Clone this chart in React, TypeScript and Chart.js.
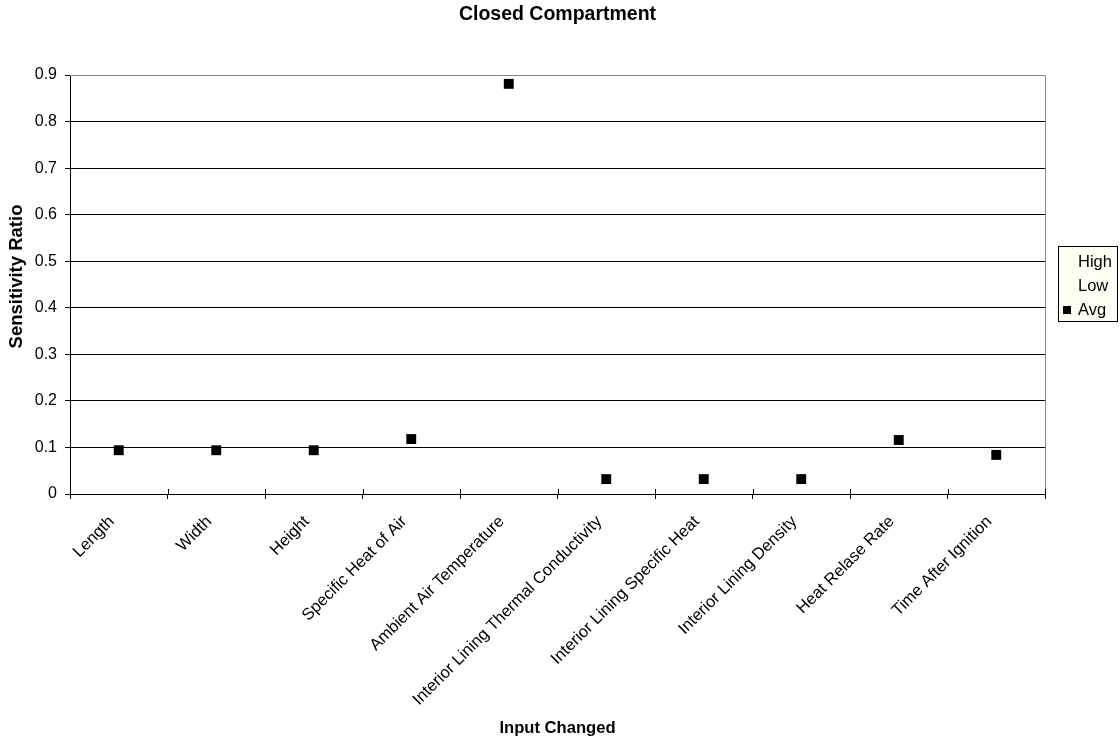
import React, { useEffect, useRef } from 'react';
import { Chart, registerables } from 'chart.js';

Chart.register(...registerables);

const FONT = '"Liberation Sans", Arial, Helvetica, sans-serif';

const categories = [
  'Length',
  'Width',
  'Height',
  'Specific Heat of Air',
  'Ambient Air Temperature',
  'Interior Lining Thermal Conductivity',
  'Interior Lining Specific Heat',
  'Interior Lining Density',
  'Heat Relase Rate',
  'Time After Ignition',
];

const highValues: number[] = [];
const lowValues: number[] = [];
const avgValues = [0.094, 0.094, 0.094, 0.118, 0.881, 0.032, 0.032, 0.032, 0.116, 0.084];

const yMin = 0;
const yMax = 0.9;
const yStep = 0.1;

const chartTitle = 'Closed Compartment';
const xTitle = 'Input Changed';
const yTitle = 'Sensitivity Ratio';

const titlePlugin = {
  id: 'titles',
  afterDraw(chart: any) {
    const { ctx, chartArea } = chart;
    ctx.save();
    ctx.fillStyle = '#000';
    ctx.textAlign = 'center';
    ctx.textBaseline = 'middle';
    ctx.font = `bold 19.5px ${FONT}`;
    ctx.fillText(chartTitle, (chartArea.left + chartArea.right) / 2, 15);
    ctx.translate(17, (chartArea.top + chartArea.bottom) / 2 - 8);
    ctx.rotate(-Math.PI / 2);
    ctx.font = `bold 18.5px ${FONT}`;
    ctx.fillText(yTitle, 0, 0);
    ctx.restore();
  },
};

const framePlugin = {
  id: 'frame',
  beforeDatasetsDraw(chart: any) {
    const { ctx, chartArea } = chart;
    const { left, right, top, bottom } = chartArea;
    ctx.save();
    ctx.strokeStyle = '#888888';
    ctx.lineWidth = 1;
    ctx.beginPath();
    ctx.moveTo(left, Math.round(top) + 0.5);
    ctx.lineTo(Math.round(right) + 0.5, Math.round(top) + 0.5);
    ctx.lineTo(Math.round(right) + 0.5, bottom);
    ctx.stroke();
    // inner part of category tick marks (crossing the axis)
    const xs = chart.scales.x;
    const n = categories.length;
    ctx.strokeStyle = '#000';
    ctx.beginPath();
    for (let i = 0; i <= n; i++) {
      let px: number;
      if (i === 0) px = left;
      else if (i === n) px = right;
      else px = (xs.getPixelForValue(i - 1) + xs.getPixelForValue(i)) / 2;
      const ax = Math.round(px) + 0.5;
      ctx.moveTo(ax, bottom - 5);
      ctx.lineTo(ax, bottom);
    }
    ctx.stroke();
    ctx.restore();
  },
};

const legendPlugin = {
  id: 'legendBox',
  afterDraw(chart: any) {
    const { ctx, chartArea } = chart;
    const x = Math.round(chartArea.right) + 13;
    const y = 246;
    const w = 60;
    const h = 76;
    ctx.save();
    ctx.fillStyle = '#fffff4';
    ctx.fillRect(x, y, w, h);
    ctx.strokeStyle = '#000';
    ctx.lineWidth = 1;
    ctx.strokeRect(x + 0.5, y + 0.5, w - 1, h - 1);
    ctx.font = `16.5px ${FONT}`;
    ctx.textAlign = 'left';
    ctx.textBaseline = 'middle';
    chart.data.datasets.forEach((ds: any, i: number) => {
      const ty = y + 16 + i * 24;
      ctx.fillStyle = '#000';
      ctx.fillText(ds.label, x + 20, ty);
      if (ds.data.length > 0) {
        ctx.fillRect(x + 5, ty - 4, 8, 8);
      }
    });
    ctx.restore();
  },
};

export default function App() {
  const canvasRef = useRef<HTMLCanvasElement | null>(null);

  useEffect(() => {
    if (!canvasRef.current) return;
    Chart.defaults.font.family = FONT;
    Chart.defaults.color = '#000';
    const chart = new Chart(canvasRef.current, {
      type: 'line',
      data: {
        labels: categories,
        datasets: [
          {
            label: 'High',
            data: highValues,
            showLine: false,
            pointRadius: 0,
            borderColor: 'rgba(0,0,0,0)',
            backgroundColor: 'rgba(0,0,0,0)',
          },
          {
            label: 'Low',
            data: lowValues,
            showLine: false,
            pointRadius: 0,
            borderColor: 'rgba(0,0,0,0)',
            backgroundColor: 'rgba(0,0,0,0)',
          },
          {
            label: 'Avg',
            data: avgValues,
            showLine: false,
            pointStyle: 'rect',
            pointRadius: 7,
            pointBorderWidth: 0,
            pointBackgroundColor: '#000',
            pointBorderColor: '#000',
            borderColor: '#000',
            backgroundColor: '#000',
          },
        ],
      },
      options: {
        responsive: false,
        animation: false,
        layout: { padding: { left: 0, right: 75, top: 75, bottom: 0 } },
        plugins: {
          legend: { display: false },
          tooltip: { enabled: false },
          title: { display: false },
        },
        scales: {
          x: {
            type: 'category',
            offset: true,
            grid: {
              offset: true,
              drawOnChartArea: false,
              drawTicks: true,
              tickLength: 5,
              color: '#000',
            },
            border: { display: true, color: '#000', width: 1 },
            ticks: {
              autoSkip: false,
              minRotation: 45,
              maxRotation: 45,
              padding: 13,
              labelOffset: -7,
              color: '#000',
              font: { size: 16.5, family: FONT },
            },
            title: {
              display: true,
              text: xTitle,
              color: '#000',
              font: { size: 16.6, weight: 'bold', family: FONT },
              padding: { top: 0, bottom: 6 },
            },
            afterFit(scale: any) {
              scale.height = 250;
            },
          },
          y: {
            min: yMin,
            max: yMax,
            grid: {
              color: (c: any) => (c.tick && Math.abs(c.tick.value - yMax) < 1e-9 ? '#888888' : '#000'),
              tickColor: '#000',
              tickLength: 5,
              lineWidth: 1,
            },
            border: { display: true, color: '#000', width: 1 },
            ticks: {
              stepSize: yStep,
              padding: 8,
              color: '#000',
              font: { size: 16, family: FONT },
              callback: (v: any) => String(Number(Number(v).toFixed(1))),
            },
            title: { display: false },
            afterFit(scale: any) {
              scale.width = 70;
            },
          },
        },
      },
      plugins: [framePlugin, legendPlugin, titlePlugin],
    });
    return () => chart.destroy();
  }, []);

  return (
    <div style={{ position: 'absolute', left: 0, top: 0, width: 1120, height: 744, background: '#fff' }}>
      <canvas ref={canvasRef} width={1120} height={744} style={{ display: 'block' }} />
    </div>
  );
}
